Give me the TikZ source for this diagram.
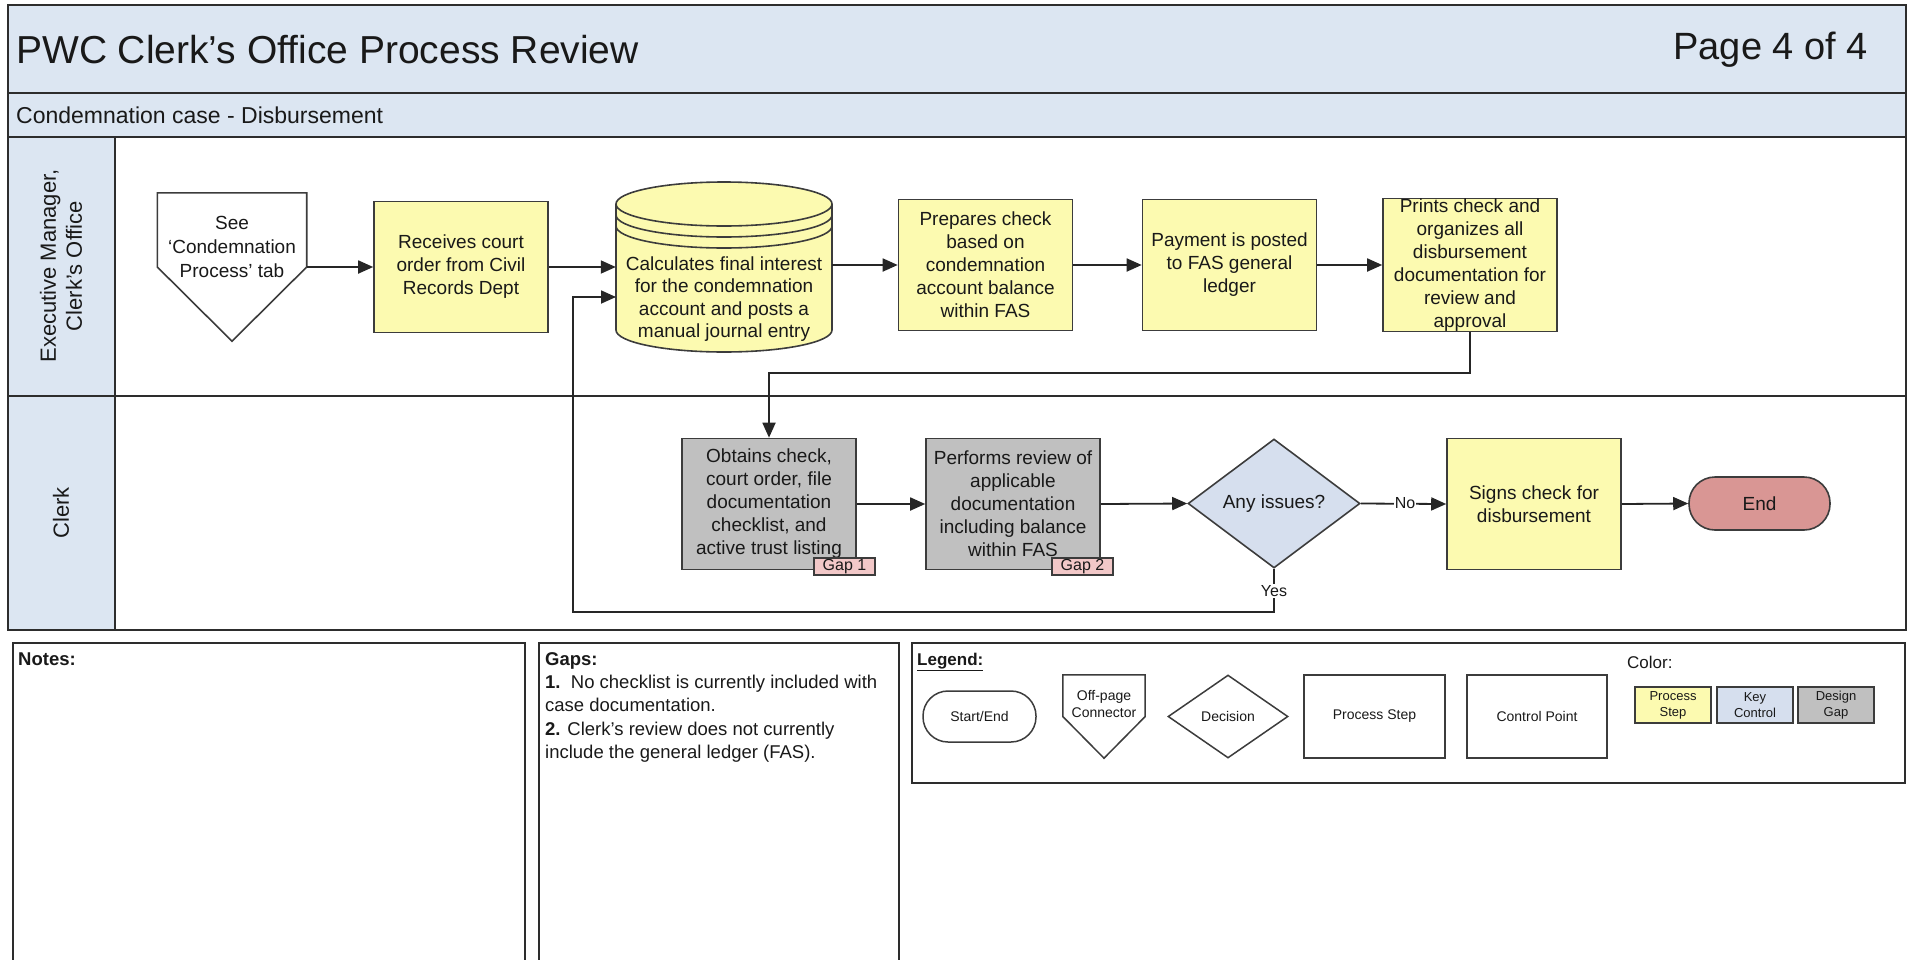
\documentclass[tikz,border=0pt]{standalone}
\usepackage{fontspec}
\setmainfont{Liberation Sans}
\usetikzlibrary{arrows.meta,shapes.geometric}
\definecolor{band}{RGB}{220,230,242}
\definecolor{procyellow}{RGB}{252,250,176}
\definecolor{gapgray}{RGB}{192,192,192}
\definecolor{keyblue}{RGB}{214,223,238}
\definecolor{endred}{RGB}{217,150,148}
\definecolor{gappink}{RGB}{242,200,200}
\definecolor{frameline}{RGB}{45,45,45}
\definecolor{boxline}{RGB}{60,60,60}
\definecolor{txt}{RGB}{25,25,25}
\newcommand\myfs[2]{\fontsize{#1}{#2}\selectfont}
\begin{document}
\begin{tikzpicture}[x=1pt,y=-1pt,
  frame/.style={draw=frameline, line width=2pt},
  stepbox/.style={draw=boxline, line width=1.6pt, fill=procyellow, minimum width=174pt, minimum height=131pt, inner sep=0pt, align=center, font=\myfs{19}{23}, text=txt},
  gapstep/.style={stepbox, fill=gapgray},
  flow/.style={draw=black!85, line width=1.8pt, -{Triangle[length=15pt,width=13pt]}},
  lbl/.style={fill=white, inner sep=1pt, font=\myfs{16}{18}, text=txt},
  tag/.style={draw=boxline, line width=1.2pt, fill=gappink, minimum width=61pt, minimum height=17pt, inner sep=0pt, font=\myfs{16}{16}, text=txt},
  legshape/.style={draw=boxline, line width=1.5pt, fill=white, inner sep=0pt, align=center, font=\myfs{14}{17}, text=txt},
  legline/.style={draw=boxline, line width=1.5pt, fill=white},
  swatch/.style={draw=boxline, line width=1.5pt, minimum width=76pt, minimum height=36pt, inner sep=0pt, align=center, font=\myfs{13}{16}, text=txt},
  plaintext/.style={inner sep=0pt, text=txt},
  cylline/.style={draw=boxline, line width=1.6pt}
]
\useasboundingbox (0,0) rectangle (1913,959);
% ---- bands and frame
\fill[band] (8,5) rectangle (1906,137);
\fill[band] (8,137) rectangle (115,630);
\draw[frame] (8,5) rectangle (1906,630);
\draw[frame] (8,93) -- (1906,93);
\draw[frame] (8,137) -- (1906,137);
\draw[frame] (8,396) -- (1906,396);
\draw[frame] (115,137) -- (115,630);
\node[plaintext, anchor=west, font=\myfs{39}{44}] (title) at (16,50) {PWC Clerk’s Office Process Review};
\node[plaintext, anchor=east, font=\myfs{38}{44}] (page) at (1868,50) {Page 4 of 4};
\node[plaintext, anchor=west, font=\myfs{23}{27}] (sub) at (16,115) {Condemnation case - Disbursement};
\node[plaintext, rotate=90, align=center, font=\myfs{22}{26}] (lane1) at (61,266) {Executive Manager,\\Clerk’s Office};
\node[plaintext, rotate=90, font=\myfs{22}{26}] (lane2) at (61,513) {Clerk};
% ---- lane 1
\node[inner sep=0pt, minimum width=149pt, minimum height=148pt] (op) at (232,267) {};
\draw[draw=boxline, line width=1.6pt, fill=white] (op.north west) -- (op.north east) -- (op.east) -- (op.south) -- (op.west) -- cycle;
\node[plaintext, align=center, font=\myfs{19}{24}] (optext) at (232,247) {See\\‘Condemnation\\Process’ tab};
\node[stepbox] (rec) at (461,267) {Receives court\\order from Civil\\Records Dept};
% cylinder
\fill[procyellow] (616,204) -- (616,330) arc[start angle=180,end angle=360,x radius=108pt,y radius=22pt] -- (832,204) arc[start angle=0,end angle=180,x radius=108pt,y radius=22pt] -- cycle;
\draw[cylline] (616,204) -- (616,330) arc[start angle=180,end angle=360,x radius=108pt,y radius=22pt] -- (832,204) arc[start angle=0,end angle=180,x radius=108pt,y radius=22pt] -- cycle;
\draw[cylline] (616,204) arc[start angle=180,end angle=360,x radius=108pt,y radius=22pt];
\draw[cylline] (616,215) arc[start angle=180,end angle=360,x radius=108pt,y radius=22pt];
\draw[cylline] (616,226) arc[start angle=180,end angle=360,x radius=108pt,y radius=22pt];
\node[plaintext, align=center, font=\myfs{19}{22.5}, minimum width=216pt] (cyl) at (724,299) {Calculates final interest\\for the condemnation\\account and posts a\\manual journal entry};
\node[stepbox] (prep) at (985.5,265) {Prepares check\\based on\\condemnation\\account balance\\within FAS};
\node[stepbox] (pay) at (1229.5,265) {Payment is posted\\to FAS general\\ledger};
\node[stepbox] (prt) at (1470,265) {Prints check and\\organizes all\\disbursement\\documentation for\\review and\\approval};
% ---- lane 2
\node[gapstep] (obt) at (769,504) {Obtains check,\\court order, file\\documentation\\checklist, and\\active trust listing};
\node[gapstep] (perf) at (1013,504) {Performs review of\\applicable\\documentation\\including balance\\within FAS};
\node[tag] (gap1) at (844.5,566.5) {Gap 1};
\node[tag] (gap2) at (1082.5,566.5) {Gap 2};
\node[diamond, draw=boxline, line width=1.6pt, fill=keyblue, minimum width=172pt, minimum height=129pt, inner sep=0pt, font=\myfs{19}{23}, text=txt] (dec) at (1274,503.5) {Any issues?};
\node[stepbox] (sign) at (1534,504) {Signs check for\\disbursement};
\node[draw=boxline, line width=1.6pt, fill=endred, rounded corners=26pt, minimum width=141pt, minimum height=53pt, inner sep=0pt, font=\myfs{19}{23}, text=txt] (endn) at (1759.5,503.5) {End};
% ---- connectors
\coordinate (y373) at (0,373);
\coordinate (loopc) at (573,612);
\coordinate (cylin) at (616,297);
\draw[flow] (op.east) -- (rec.west);
\draw[flow] (rec.east) -- (rec.east -| cyl.west);
\draw[flow] (prep.west -| cyl.east) -- (prep.west);
\draw[flow] (prep.east) -- (pay.west);
\draw[flow] (pay.east) -- (prt.west);
\draw[flow] (prt.south) -- (prt.south |- y373) -| (obt.north);
\draw[flow] (obt.east) -- (perf.west);
\draw[flow] (perf.east) -- (dec.west);
\draw[flow] (dec.east) -- (sign.west);
\draw[flow] (sign.east) -- (endn.west);
\draw[flow] (dec.south) |- (loopc) |- (cylin);
\node[lbl] (no) at (1405,503.5) {No};
\node[lbl] (yes) at (1274,591) {Yes};
% ---- bottom boxes
\draw[frame] (13,962) -- (13,643) -- (525,643) -- (525,962);
\node[plaintext, anchor=west, font=\bfseries\myfs{18.5}{23}] (notes) at (18,659) {Notes:};
\draw[frame] (539,962) -- (539,643) -- (899,643) -- (899,962);
\node[plaintext, anchor=north west, align=left, font=\myfs{18.5}{23.4}] (gaps) at (545,652) {\textbf{Gaps:}\\\textbf{1.}\ \ No checklist is currently included with\\case documentation.\\\textbf{2.} Clerk’s review does not currently\\include the general ledger (FAS).};
% ---- legend
\draw[frame] (912,643) rectangle (1905,783);
\node[plaintext, anchor=west, font=\bfseries\myfs{17}{20}] (legend) at (917,662) {\underline{Legend:}};
\node[plaintext, anchor=west, font=\myfs{17}{20}] (color) at (1627,662) {Color:};
\node[legshape, rounded corners=25pt, minimum width=113pt, minimum height=51pt] (lse) at (979.5,716.5) {Start/End};
\node[inner sep=0pt, minimum width=82pt, minimum height=83pt] (lop) at (1104,716.5) {};
\draw[legline] (lop.north west) -- (lop.north east) -- (lop.east) -- (lop.south) -- (lop.west) -- cycle;
\node[plaintext, align=center, font=\myfs{14}{17}] (loptext) at (1104,704) {Off-page\\Connector};
\node[legshape, diamond, minimum width=120pt, minimum height=83pt] (ldec) at (1228,716.5) {Decision};
\node[legshape, minimum width=141pt, minimum height=83pt] (lproc) at (1374.5,716.5) {Process Step};
\node[legshape, minimum width=140pt, minimum height=83pt] (lctrl) at (1537,716.5) {Control Point};
\node[swatch, fill=procyellow] (sw1) at (1673,705) {Process\\Step};
\node[swatch, fill=keyblue] (sw2) at (1755,705) {Key\\Control};
\node[swatch, fill=gapgray] (sw3) at (1836,705) {Design\\Gap};
\end{tikzpicture}
\end{document}
